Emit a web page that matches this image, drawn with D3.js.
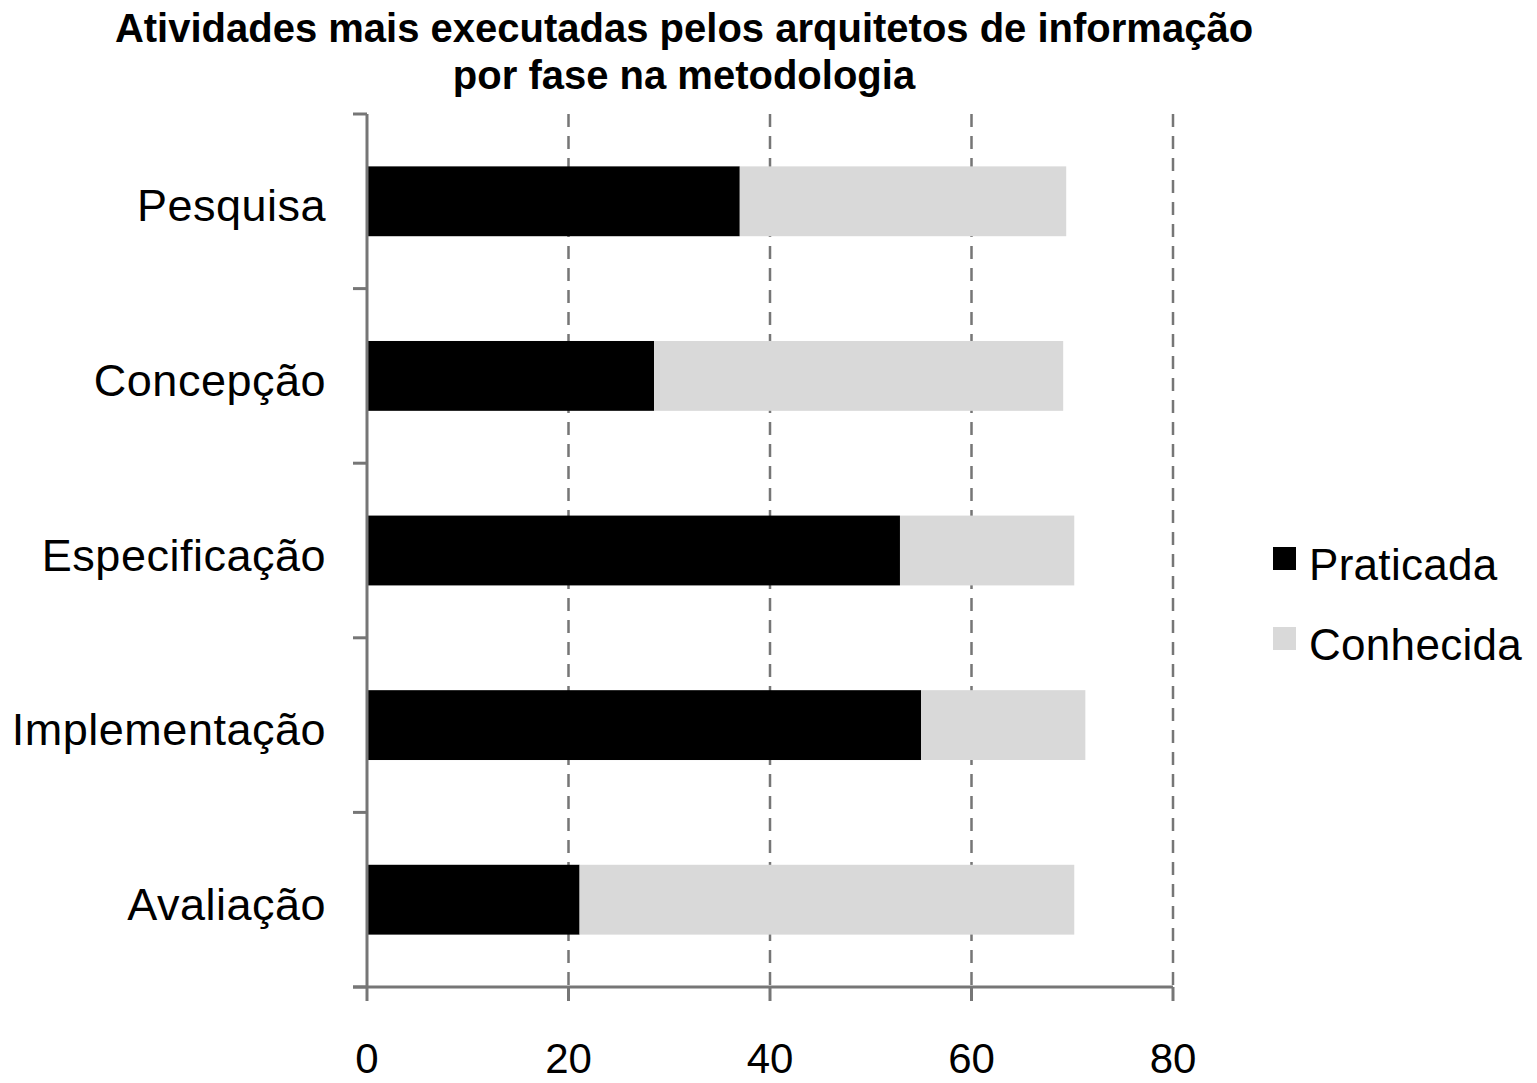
<!DOCTYPE html>
<html>
<head>
<meta charset="utf-8">
<script src="https://cdn.jsdelivr.net/npm/d3@7"></script>
<style>
  body { margin: 0; background: #fff; }
  text { font-family: "Liberation Sans", Arial, sans-serif; }
</style>
</head>
<body>
<div id="chart"></div>
<script>
// data
var categories = ["Pesquisa", "Concepção", "Especificação", "Implementação", "Avaliação"];
var praticada = [37.0, 28.5, 52.9, 55.0, 21.1];
var conhecida = [32.4, 40.6, 17.3, 16.3, 49.1];
var seriesNames = ["Praticada", "Conhecida"];
var seriesColors = ["#000000", "#d9d9d9"];
var xTicks = [0, 20, 40, 60, 80];
var titleLines = ["Atividades mais executadas pelos arquitetos de informação", "por fase na metodologia"];

var cfg = { w: 1537, h: 1083, left: 367, right: 1173, top: 114, bottom: 987 };

var svg = d3.select("#chart").append("svg")
    .attr("width", cfg.w)
    .attr("height", cfg.h);

var x = d3.scaleLinear().domain([0, 80]).range([cfg.left, cfg.right]);
var y = d3.scaleBand().domain(categories).range([cfg.top, cfg.bottom]).paddingInner(0.6).paddingOuter(0.3);
var yEdges = d3.scaleBand().domain(categories).range([cfg.top, cfg.bottom]);

// stacked rows
var rows = categories.map(function(c, i) {
    return { cat: c, Praticada: praticada[i], Conhecida: conhecida[i] };
});
var stack = d3.stack().keys(seriesNames)(rows);

// gridlines
svg.append("g").selectAll("line")
    .data(xTicks.slice(1))
    .enter().append("line")
    .attr("x1", function(d) { return x(d); })
    .attr("x2", function(d) { return x(d); })
    .attr("y1", cfg.top)
    .attr("y2", cfg.bottom)
    .attr("stroke", "#767676")
    .attr("stroke-width", 2.5)
    .attr("stroke-dasharray", "13,9");

// bars
svg.append("g").selectAll("g")
    .data(stack)
    .enter().append("g")
    .attr("fill", function(d, i) { return seriesColors[i]; })
    .selectAll("rect")
    .data(function(d) { return d; })
    .enter().append("rect")
    .attr("x", function(d) { return x(d[0]); })
    .attr("width", function(d) { return x(d[1]) - x(d[0]); })
    .attr("y", function(d) { return y(d.data.cat); })
    .attr("height", y.bandwidth());

// y axis
var yAxis = svg.append("g");
yAxis.append("line")
    .attr("x1", cfg.left).attr("x2", cfg.left)
    .attr("y1", cfg.top).attr("y2", cfg.bottom)
    .attr("stroke", "#767676").attr("stroke-width", 3);
var yTickPos = categories.map(function(c) { return yEdges(c); }).concat([cfg.bottom]);
yAxis.selectAll("line.tick")
    .data(yTickPos)
    .enter().append("line")
    .attr("class", "tick")
    .attr("x1", cfg.left - 14).attr("x2", cfg.left)
    .attr("y1", function(d) { return d; })
    .attr("y2", function(d) { return d; })
    .attr("stroke", "#767676").attr("stroke-width", 3);
yAxis.selectAll("text")
    .data(categories)
    .enter().append("text")
    .attr("x", cfg.left - 41)
    .attr("y", function(d) { return yEdges(d) + yEdges.bandwidth() / 2 + 20; })
    .attr("text-anchor", "end")
    .style("font-size", "45px")
    .style("letter-spacing", "0.5px")
    .text(function(d) { return d; });

// x axis
var xAxis = svg.append("g");
xAxis.append("line")
    .attr("x1", cfg.left - 14).attr("x2", cfg.right)
    .attr("y1", cfg.bottom).attr("y2", cfg.bottom)
    .attr("stroke", "#767676").attr("stroke-width", 3);
xAxis.selectAll("line.tick")
    .data(xTicks)
    .enter().append("line")
    .attr("class", "tick")
    .attr("x1", function(d) { return x(d); })
    .attr("x2", function(d) { return x(d); })
    .attr("y1", cfg.bottom).attr("y2", cfg.bottom + 14)
    .attr("stroke", "#767676").attr("stroke-width", 3);
xAxis.selectAll("text")
    .data(xTicks)
    .enter().append("text")
    .attr("x", function(d) { return x(d); })
    .attr("y", 1073)
    .attr("text-anchor", "middle")
    .style("font-size", "42px")
    .text(function(d) { return d; });

// title
svg.append("g").selectAll("text")
    .data(titleLines)
    .enter().append("text")
    .attr("x", 684)
    .attr("y", function(d, i) { return 42 + i * 47; })
    .attr("text-anchor", "middle")
    .style("font-size", "40px")
    .style("font-weight", "bold")
    .text(function(d) { return d; });

// legend
var legend = svg.append("g").attr("transform", "translate(1273,547)");
var items = legend.selectAll("g")
    .data(seriesNames)
    .enter().append("g")
    .attr("transform", function(d, i) { return "translate(0," + (i * 80) + ")"; });
items.append("rect")
    .attr("width", 23).attr("height", 23)
    .attr("fill", function(d, i) { return seriesColors[i]; });
items.append("text")
    .attr("x", 36)
    .attr("y", 33)
    .style("font-size", "44px")
    .style("letter-spacing", "0.3px")
    .text(function(d) { return d; });
</script>
</body>
</html>
